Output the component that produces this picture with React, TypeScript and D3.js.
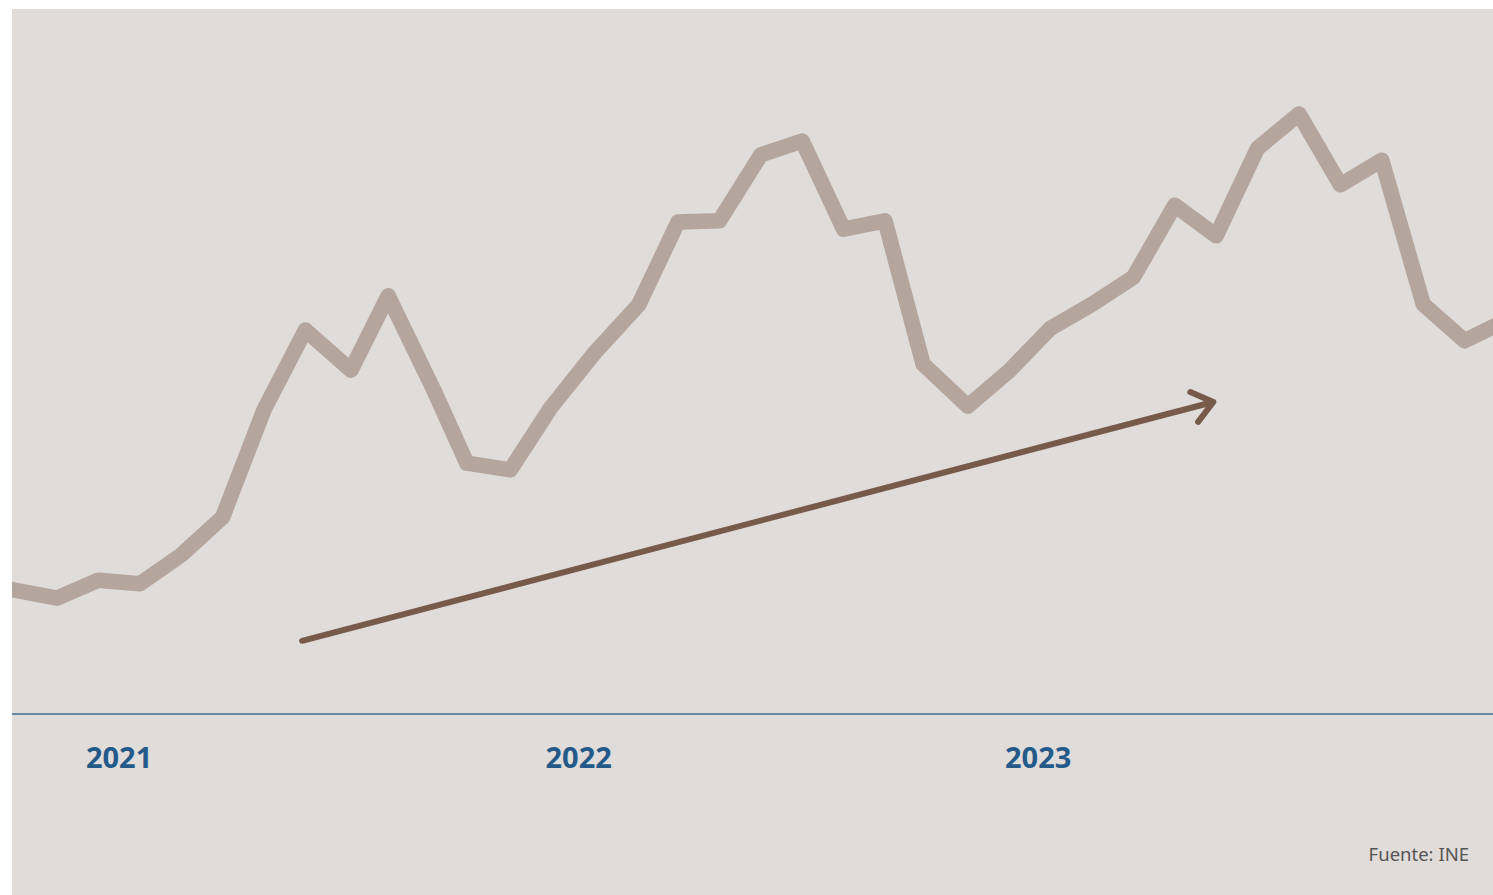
import React from "react";
import * as d3 from "d3";

// Time coordinate of each observation (period units)
const periods: number[] = [
  0, 1, 2, 3, 4, 5, 6, 7, 8.1, 9, 10.1, 10.9,
  11.95, 12.92, 14, 15.05, 16, 17, 18, 19, 20, 21, 21.92, 23,
  24, 25, 26, 27, 28, 29, 30, 31, 32, 33, 34, 35, 36,
];

// Series values (arbitrary units)
const values: number[] = [
  20.6, 19.3, 22.3, 21.7, 26.5, 32.8, 50.7, 64.0, 57.3, 69.7, 54.0, 41.8,
  40.7, 51.0, 60.3, 68.2, 82.0, 82.2, 93.2, 95.5, 80.8, 82.2, 58.3, 51.3,
  57.2, 64.3, 68.3, 72.8, 84.8, 79.7, 94.3, 100.0, 88.2, 92.3, 68.3, 62.2, 65.6,
];

// Year tick labels and their positions on the period axis
const yearLabels: string[] = ["2021", "2022", "2023"];
const yearTicks: number[] = [2.5, 13.6, 24.7];

// Trend arrow (period, value)
const arrowStart: [number, number] = [6.92, 12.2];
const arrowEnd: [number, number] = [28.93, 52.0];

const source = "Fuente: INE";

export default function App() {
  const W = 1493;
  const H = 895;
  const left = 12;
  const top = 9;

  const x = d3.scaleLinear().domain([0, 35]).range([15.6, 1464.6]);
  const y = d3.scaleLinear().domain([0, 100]).range([714, 114]);

  const line = d3
    .line<number>()
    .x((_, i) => x(periods[i]))
    .y((d) => y(d));

  const ax0 = x(arrowStart[0]);
  const ay0 = y(arrowStart[1]);
  const ax1 = x(arrowEnd[0]);
  const ay1 = y(arrowEnd[1]);
  const ang = Math.atan2(ay1 - ay0, ax1 - ax0);
  const headLen = 25;
  const headAng = (38 * Math.PI) / 180;
  const h1x = ax1 - headLen * Math.cos(ang - headAng);
  const h1y = ay1 - headLen * Math.sin(ang - headAng);
  const h2x = ax1 - headLen * Math.cos(ang + headAng);
  const h2y = ay1 - headLen * Math.sin(ang + headAng);

  return (
    <div
      style={{
        position: "fixed",
        left: 0,
        top: 0,
        width: W,
        height: H,
        overflow: "hidden",
        background: "#ffffff",
      }}
    >
      <svg width={W} height={H} style={{ display: "block" }}>
        <defs>
          <clipPath id="plotClip">
            <rect x={left} y={top} width={W - left} height={H - top} />
          </clipPath>
        </defs>
        <rect x={left} y={top} width={W - left} height={H - top} fill="#e0dcd9" />
        <g clipPath="url(#plotClip)">
          <path
            d={line(values) || ""}
            fill="none"
            stroke="#b4a59d"
            strokeWidth={15.5}
            strokeLinejoin="round"
            strokeLinecap="square"
          />
          <line
            x1={left}
            x2={W}
            y1={y(0)}
            y2={y(0)}
            stroke="#3d6b8f"
            strokeWidth={1.5}
          />
          <path
            d={`M${ax0},${ay0}L${ax1},${ay1}M${h1x},${h1y}L${ax1},${ay1}L${h2x},${h2y}`}
            fill="none"
            stroke="#785a4b"
            strokeWidth={6}
            strokeLinecap="round"
            strokeLinejoin="round"
          />
        </g>
        {yearLabels.map((lab, i) => (
          <text
            key={lab}
            x={x(yearTicks[i])}
            y={768}
            textAnchor="middle"
            fontFamily="'Noto Sans', 'Open Sans', sans-serif"
            fontWeight={700}
            fontSize={29}
            fill="#245a8a"
          >
            {lab}
          </text>
        ))}
        <text
          x={1469}
          y={861}
          textAnchor="end"
          fontFamily="'Noto Sans', 'Open Sans', sans-serif"
          fontSize={18.5}
          fill="#555555"
        >
          {source}
        </text>
      </svg>
    </div>
  );
}
